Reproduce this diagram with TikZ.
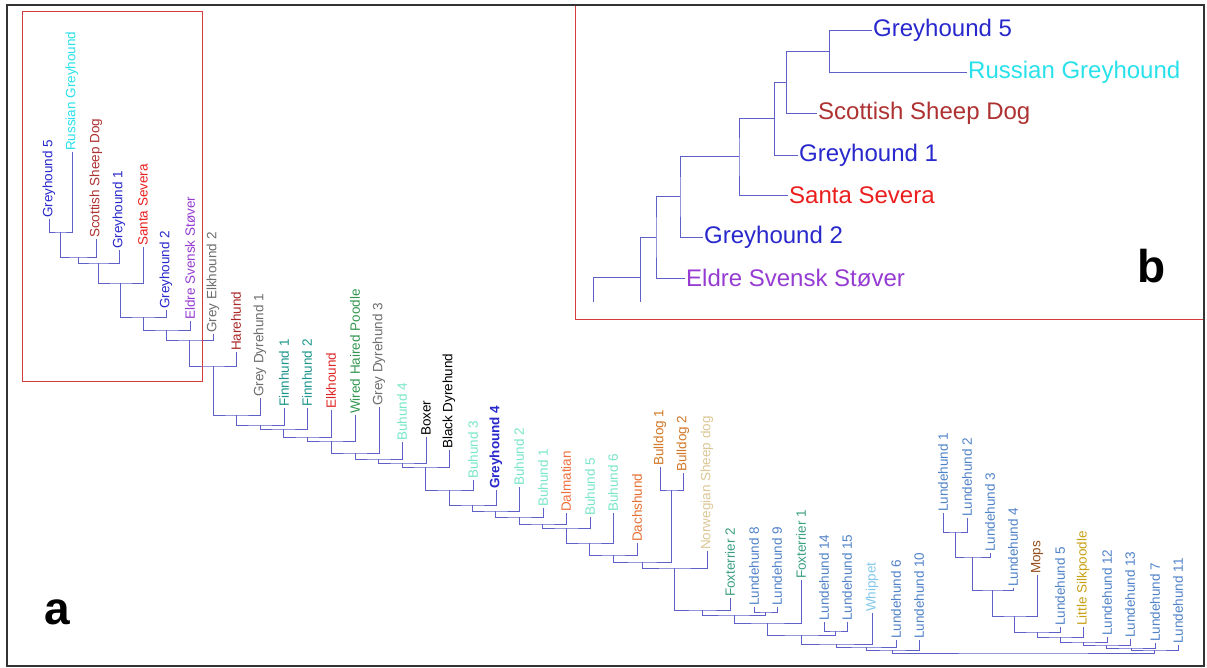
\documentclass[tikz,border=0pt]{standalone}
\usepackage{fontspec}
\setmainfont{Liberation Sans}
\usetikzlibrary{calc}
\definecolor{cBr}{RGB}{95,95,200}
\definecolor{cGH}{RGB}{40,40,205}
\definecolor{cRu}{RGB}{40,225,235}
\definecolor{cSc}{RGB}{175,50,50}
\definecolor{cSa}{RGB}{235,30,30}
\definecolor{cEl}{RGB}{150,60,210}
\definecolor{cGr}{RGB}{110,110,110}
\definecolor{cHa}{RGB}{170,40,40}
\definecolor{cFi}{RGB}{30,150,140}
\definecolor{cEk}{RGB}{225,40,40}
\definecolor{cWi}{RGB}{50,150,80}
\definecolor{cBu}{RGB}{120,230,200}
\definecolor{cDa}{RGB}{240,110,60}
\definecolor{cDc}{RGB}{230,110,50}
\definecolor{cBd}{RGB}{210,120,40}
\definecolor{cNo}{RGB}{220,200,150}
\definecolor{cFo}{RGB}{60,160,130}
\definecolor{cLu}{RGB}{80,130,200}
\definecolor{cWh}{RGB}{130,200,235}
\definecolor{cMo}{RGB}{150,80,30}
\definecolor{cSi}{RGB}{200,160,20}
\definecolor{cRed}{RGB}{210,60,60}
\newcommand\dgjoin[4]{%
  \path ($(#2)!.5!(#3)$) coordinate (#1m) (0,#4) coordinate (#1h);
  \coordinate (#1) at (#1m |- #1h);
  \draw[br] (#2) |- (#1) -| (#3);}
\newcommand\hjoin[4]{%
  \path ($(#2)!.5!(#3)$) coordinate (#1m) (#4,0) coordinate (#1h);
  \coordinate (#1) at (#1h |- #1m);
  \draw[br] (#2) -| (#1) |- (#3);}
\begin{document}
\begin{tikzpicture}[x=1pt,y=-1pt,
  lbl/.style={rotate=90,anchor=west,inner sep=1pt,font=\fontsize{13.5}{14}\selectfont},
  blbl/.style={anchor=west,inner sep=1pt,font=\fontsize{24}{26}\selectfont},
  br/.style={draw=cBr,line width=0.8pt},
  redbox/.style={draw=cRed,line width=1pt},
  panel/.style={font=\bfseries\fontsize{46}{46}\selectfont,inner sep=0pt}]
\useasboundingbox (0,0) rectangle (1207,668);
\fill[white] (0,0) rectangle (1207,668);
% ---- panel a labels
\node[lbl,text=cGH] (gh5) at (49,219) {Greyhound 5};
\node[lbl,text=cRu] (russ) at (72,152) {Russian Greyhound};
\node[lbl,text=cSc] (scot) at (96,239) {Scottish Sheep Dog};
\node[lbl,text=cGH] (gh1) at (119,250) {Greyhound 1};
\node[lbl,text=cSa] (santa) at (143,247) {Santa Severa};
\node[lbl,text=cGH] (gh2) at (166,310) {Greyhound 2};
\node[lbl,text=cEl] (eldre) at (190,321) {Eldre Svensk Støver};
\node[lbl,text=cGr] (gelk) at (213,334) {Grey Elkhound 2};
\node[lbl,text=cHa] (hare) at (236,352) {Harehund};
\node[lbl,text=cGr] (gdyra) at (260,398) {Grey Dyrehund 1};
\node[lbl,text=cFi] (finna) at (284,408) {Finnhund 1};
\node[lbl,text=cFi] (finnb) at (307,408) {Finnhund 2};
\node[lbl,text=cEk] (elk) at (331,410) {Elkhound};
\node[lbl,text=cWi] (wired) at (355,415) {Wired Haired Poodle};
\node[lbl,text=cGr] (gdyrc) at (379,407) {Grey Dyrehund 3};
\node[lbl,text=cBu] (bu4) at (402,442) {Buhund 4};
\node[lbl,text=black] (boxer) at (426,437) {Boxer};
\node[lbl,text=black] (bdyr) at (449,450) {Black Dyrehund};
\node[lbl,text=cBu] (bu3) at (473,480) {Buhund 3};
\node[lbl,text=cGH] (gh4) at (496,490) {\bfseries Greyhound 4};
\node[lbl,text=cBu] (bu2) at (519,487) {Buhund 2};
\node[lbl,text=cBu] (bu1) at (543,508) {Buhund 1};
\node[lbl,text=cDa] (dalm) at (566,513) {Dalmatian};
\node[lbl,text=cBu] (bu5) at (590,517) {Buhund 5};
\node[lbl,text=cBu] (bu6) at (613,513) {Buhund 6};
\node[lbl,text=cDc] (dach) at (637,543) {Dachshund};
\node[lbl,text=cBd] (bda) at (660,467) {Bulldog 1};
\node[lbl,text=cBd] (bdb) at (683,473) {Bulldog 2};
\node[lbl,text=cNo] (norw) at (707,551) {Norwegian Sheep dog};
\node[lbl,text=cFo] (foxb) at (730,598) {Foxterrier 2};
\node[lbl,text=cLu] (lh8) at (754,607) {Lundehund 8};
\node[lbl,text=cLu] (lh9) at (777,607) {Lundehund 9};
\node[lbl,text=cFo] (foxa) at (801,580) {Foxterrier 1};
\node[lbl,text=cLu] (lh14) at (824,622) {Lundehund 14};
\node[lbl,text=cLu] (lh15) at (847,622) {Lundehund 15};
\node[lbl,text=cWh] (whip) at (872,613) {Whippet};
\node[lbl,text=cLu] (lh6) at (896,640) {Lundehund 6};
\node[lbl,text=cLu] (lh10) at (919,640) {Lundehund 10};
\node[lbl,text=cLu] (lh1) at (943,513) {Lundehund 1};
\node[lbl,text=cLu] (lh2) at (967,518) {Lundehund 2};
\node[lbl,text=cLu] (lh3) at (990,553) {Lundehund 3};
\node[lbl,text=cLu] (lh4) at (1013,588) {Lundehund 4};
\node[lbl,text=cMo] (mops) at (1037,575) {Mops};
\node[lbl,text=cLu] (lh5) at (1060,627) {Lundehund 5};
\node[lbl,text=cSi] (silk) at (1083,627) {Little Silkpoodle};
\node[lbl,text=cLu] (lh12) at (1107,637) {Lundehund 12};
\node[lbl,text=cLu] (lh13) at (1130,639) {Lundehund 13};
\node[lbl,text=cLu] (lh7) at (1155,643) {Lundehund 7};
\node[lbl,text=cLu] (lh11) at (1178,645) {Lundehund 11};
% ---- panel a tree
\dgjoin{n1}{gh5.west}{russ.west}{232}
\dgjoin{n2}{n1}{scot.west}{257}
\dgjoin{n3}{n2}{gh1.west}{263}
\dgjoin{n4}{n3}{santa.west}{283}
\dgjoin{n5}{n4}{gh2.west}{317}
\dgjoin{n6}{n5}{eldre.west}{330}
\dgjoin{n7}{n6}{gelk.west}{340}
\dgjoin{n8}{n7}{hare.west}{366}
\dgjoin{n9}{n8}{gdyra.west}{415}
\dgjoin{n10}{n9}{finna.west}{425}
\dgjoin{n11}{n10}{finnb.west}{429}
\dgjoin{n12}{n11}{elk.west}{437}
\dgjoin{n13}{n12}{wired.west}{441}
\dgjoin{n14}{n13}{gdyrc.west}{453}
\dgjoin{n15}{n14}{bu4.west}{459}
\dgjoin{n16}{n15}{boxer.west}{463}
\dgjoin{n17}{n16}{bdyr.west}{467}
\dgjoin{n18}{n17}{bu3.west}{490}
\dgjoin{n19}{n18}{gh4.west}{505}
\dgjoin{n20}{n19}{bu2.west}{511}
\dgjoin{n21}{n20}{bu1.west}{517}
\dgjoin{n22}{n21}{dalm.west}{524}
\dgjoin{n23}{n22}{bu5.west}{528}
\dgjoin{n24}{n23}{bu6.west}{543}
\dgjoin{n25}{n24}{dach.west}{555}
\dgjoin{bd}{bda.west}{bdb.west}{490}
\dgjoin{n26}{n25}{bd}{562}
\dgjoin{n27}{n26}{norw.west}{568}
\dgjoin{n28}{n27}{foxb.west}{610}
\dgjoin{l89}{lh8.west}{lh9.west}{612}
\dgjoin{n29}{n28}{l89}{615}
\dgjoin{n30}{n29}{foxa.west}{623}
\dgjoin{l1415}{lh14.west}{lh15.west}{631}
\dgjoin{n31}{n30}{l1415}{635}
\dgjoin{n32}{n31}{whip.west}{644}
\dgjoin{n33}{n32}{lh6.west}{647}
\dgjoin{n34}{n33}{lh10.west}{650}
\dgjoin{r1}{lh1.west}{lh2.west}{532}
\dgjoin{r2}{r1}{lh3.west}{557}
\dgjoin{r3}{r2}{lh4.west}{590}
\dgjoin{r4}{r3}{mops.west}{616}
\dgjoin{r5}{r4}{lh5.west}{632}
\dgjoin{r6}{r5}{silk.west}{637}
\dgjoin{r7}{r6}{lh12.west}{642}
\dgjoin{r8}{r7}{lh13.west}{645}
\dgjoin{r9}{r8}{lh7.west}{648}
\dgjoin{r10}{r9}{lh11.west}{650}
\dgjoin{root}{n34}{r10}{653}
% ---- panel b
\node[blbl,text=cGH] (bgh5) at (872,30) {Greyhound 5};
\node[blbl,text=cRu] (bruss) at (967,72) {Russian Greyhound};
\node[blbl,text=cSc] (bscot) at (817,113) {Scottish Sheep Dog};
\node[blbl,text=cGH] (bgh1) at (798,155) {Greyhound 1};
\node[blbl,text=cSa] (bsanta) at (788,195) {Santa Severa};
\node[blbl,text=cGH] (bgh2) at (703,237) {Greyhound 2};
\node[blbl,text=cEl] (beldre) at (685,278) {Eldre Svensk Støver};
\hjoin{b1}{bgh5.west}{bruss.west}{829}
\hjoin{b2}{b1}{bscot.west}{786}
\hjoin{b3}{b2}{bgh1.west}{774}
\hjoin{b4}{b3}{bsanta.west}{739}
\hjoin{b5}{b4}{bgh2.west}{680}
\hjoin{b6}{b5}{beldre.west}{656}
\coordinate (bc1) at (640,302);
\coordinate (bc2) at (593,302);
\coordinate (bc3) at (640,277);
\draw[br] (b6) -| (bc1);
\draw[br] (bc2) |- (bc3);
% ---- panel letters and frames
\node[panel] (pa) at (57,612) {a};
\node[panel] (pb) at (1152,266) {b};
\draw[redbox] (22,12) rectangle (202,381);
\draw[redbox] (575,5) |- (1204,319);
\draw[line width=1.3pt,draw=black!80] (7,5) rectangle (1204,666);
\end{tikzpicture}
\end{document}
